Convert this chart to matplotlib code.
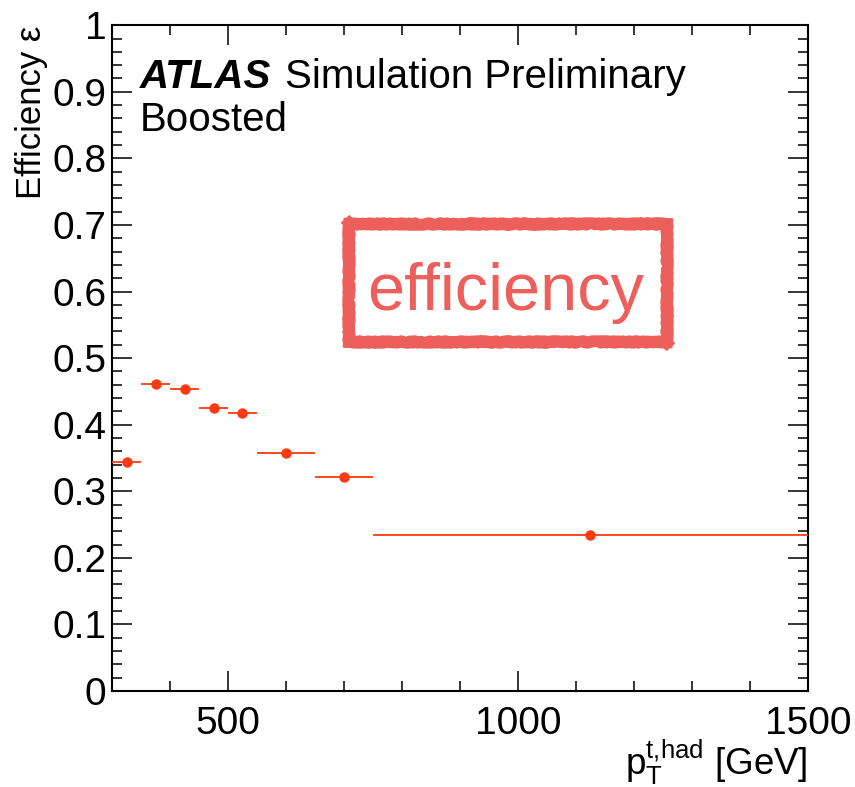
import numpy as np
import matplotlib
matplotlib.use("Agg")
import matplotlib.pyplot as plt
from matplotlib.ticker import MultipleLocator, FuncFormatter

# bin edges in pT [GeV] and the efficiency per bin
BIN_LOW = [300, 350, 400, 450, 500, 550, 650, 750]
BIN_HIGH = [350, 400, 450, 500, 550, 650, 750, 1500]
EFFICIENCY = [0.344, 0.461, 0.454, 0.425, 0.417, 0.358, 0.321, 0.235]

FONT = "Liberation Sans"
plt.rcParams["font.family"] = [FONT, "DejaVu Sans"]
plt.rcParams["mathtext.fontset"] = "custom"
plt.rcParams["mathtext.rm"] = FONT
plt.rcParams["mathtext.it"] = FONT + ":italic"

POINT_COLOR = "#ff3a10"
STAMP_COLOR = "#ec5f5a"

fig = plt.figure(figsize=(8.55, 7.87), dpi=100)
ax = fig.add_axes([0.131, 0.122, 0.814, 0.846])

low = np.array(BIN_LOW)
high = np.array(BIN_HIGH)
centers = 0.5 * (low + high)
half_width = 0.5 * (high - low)

ax.errorbar(centers, EFFICIENCY, xerr=half_width, fmt="o", color=POINT_COLOR,
            markersize=6.5, elinewidth=1.3, capsize=0, zorder=3)

ax.set_xlim(300, 1500)
ax.set_ylim(0, 1)

#ROOT style ticks on all four sides, pointing in
ax.xaxis.set_major_locator(MultipleLocator(500))
ax.xaxis.set_minor_locator(MultipleLocator(100))
ax.yaxis.set_major_locator(MultipleLocator(0.1))
ax.yaxis.set_minor_locator(MultipleLocator(0.02))
ax.yaxis.set_major_formatter(FuncFormatter(lambda v, p: f"{v:g}"))
ax.tick_params(which="both", direction="in", top=True, right=True, width=1.1, labelsize=28)
ax.tick_params(which="major", length=14.4)
ax.tick_params(which="minor", length=7.2)
ax.tick_params(axis="x", pad=11)
ax.tick_params(axis="y", pad=4)
for s in ax.spines.values():
    s.set_linewidth(1.5)

ax.set_ylabel("Efficiency ε", fontsize=25, loc="top")
ax.yaxis.set_label_coords(-0.092, 1.0)
ax.set_xlabel(r"$\mathrm{p}_{\mathrm{T}}^{\mathrm{t{,}had}}$ [GeV]", fontsize=26.5, loc="right")
ax.xaxis.set_label_coords(1.0, -0.07)
ax.xaxis.label.set_va("top")

ax.text(0.040, 0.905, "ATLAS", transform=ax.transAxes, fontsize=29,
        fontweight="bold", fontstyle="italic", va="baseline")
ax.text(0.249, 0.905, "Simulation Preliminary", transform=ax.transAxes,
        fontsize=29, va="baseline")
ax.text(0.040, 0.841, "Boosted", transform=ax.transAxes, fontsize=29, va="baseline")

#rough red stamp, one side at a time so the corners stay clean
sx0, sx1, sy0, sy1 = 0.3405, 0.797, 0.524, 0.701
sides = [([sx0, sx1], [sy0, sy0]), ([sx1, sx1], [sy0, sy1]),
         ([sx1, sx0], [sy1, sy1]), ([sx0, sx0], [sy1, sy0])]
for xs, ys in sides:
    side, = ax.plot(xs, ys, transform=ax.transAxes, color=STAMP_COLOR, linewidth=8.5,
                    solid_capstyle="projecting", zorder=4)
    side.set_sketch_params(scale=0.8, length=3, randomness=20)
ax.text(0.566, 0.572, "efficiency", transform=ax.transAxes, fontsize=48,
        color=STAMP_COLOR, ha="center", va="baseline", zorder=4)

fig.savefig("out.png", dpi=100)
